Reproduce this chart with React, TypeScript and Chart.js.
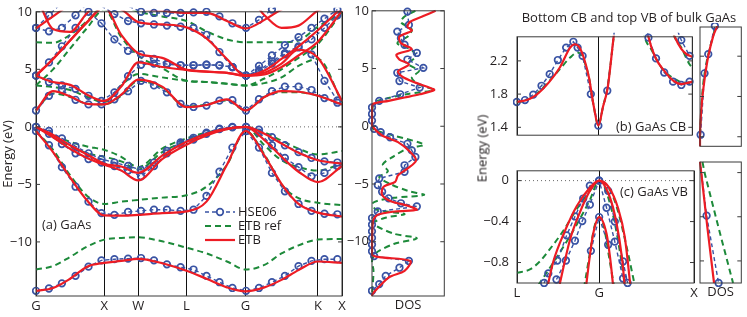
import React, { useEffect, useRef } from "react";
import { Chart, registerables } from "chart.js";

Chart.register(...registerables);

const FONT_FAMILY = "'Open Sans', 'DejaVu Sans', sans-serif";
const TEXT = "#231f20";
const RED = "#ed1c24";
const GREEN = "#1d8a3a";
const BLUE = "#3953a4";
const FRAME = "#3a3a3a";

// ---------- (a) band structure along G-X-W-L-G-K-X ----------
const symPos = [0, 1, 1.5, 2.2071, 3.0731, 4.1338, 4.4874];
const symLabels = ["G", "X", "W", "L", "G", "K", "X"];
const energyTicks = [-10, -5, 0, 5, 10];
const eMin = -14.7;
const eMax = 10;

// k grid for ETB and ETB ref curves
const kPath = [0, 0.25, 0.5, 0.75, 1.0, 1.25, 1.5, 1.85, 2.2071, 2.5, 2.8, 3.0731, 3.35, 3.6, 3.85, 4.1338, 4.4874];
// ETB (red)
const etbV1 = [-14.25, -14.0, -13.2, -12.15, -11.82, -11.65, -11.47, -11.85, -12.5, -13.2, -13.95, -14.3, -13.95, -13.3, -12.45, -11.7, -11.82];
const etbV2 = [-0.36, -2.2, -4.4, -6.4, -7.7, -7.72, -7.65, -7.5, -7.35, -6.5, -3.3, -0.36, -2.5, -4.95, -6.7, -7.45, -7.8];
const etbV3 = [0, -0.9, -1.9, -2.7, -3.3, -3.8, -4.65, -2.8, -1.55, -0.75, -0.2, 0, -1.15, -2.6, -3.9, -4.8, -3.4];
const etbV4 = [0, -0.7, -1.6, -2.4, -3.2, -3.45, -4.0, -2.5, -1.3, -0.6, -0.15, 0, -0.6, -1.45, -2.25, -2.9, -3.2];
const etbC1 = [1.42, 3.1, 2.65, 2.0, 1.95, 2.8, 4.1, 3.5, 1.71, 1.9, 2.39, 1.42, 2.6, 3.1, 3.05, 2.7, 1.95];
const etbC2 = [4.45, 3.9, 3.65, 2.8, 2.25, 3.5, 5.6, 5.2, 4.95, 4.8, 4.7, 4.45, 4.7, 5.5, 6.7, 6.0, 2.25];
const etbC3 = [4.45, 5.9, 7.5, 9.1, 10.4, 8.0, 6.4, 6.0, 4.95, 4.8, 4.7, 4.45, 4.55, 5.2, 6.2, 7.4, 10.1];
const etbC4 = [4.45, 5.9, 7.5, 9.1, 10.4, 10.2, 9.1, 8.9, 8.65, 7.7, 5.9, 4.45, 4.9, 5.9, 7.0, 8.4, 10.4];
const etbC5 = [8.55, 9.6, 10.6, 11, 11, 10.8, 10.3, 10.1, 9.9, 9.9, 9.2, 8.55, 9.3, 10.2, 10.8, 11, 11];
const etbC6 = [11.5, 8.5, 8.25, 9.9, 11, 11, 11, 11, 11, 11, 11, 11.5, 9.7, 8.6, 8.8, 10.1, 11];
// ETB ref (green)
const refV1 = [-12.4, -12.1, -11.3, -10.4, -9.8, -9.65, -9.6, -9.95, -10.5, -11.0, -11.7, -12.4, -12.0, -11.0, -10.3, -9.8, -9.75];
const refV2 = [-0.36, -2.0, -4.2, -6.0, -6.7, -6.5, -6.35, -6.15, -5.95, -5.2, -3.3, -0.36, -2.4, -5.0, -6.2, -6.6, -6.8];
const refV3 = [0, -0.9, -1.7, -2.3, -2.6, -3.0, -3.7, -2.2, -1.2, -0.6, -0.2, 0, -1.6, -2.9, -3.5, -3.8, -3.2];
const refV4 = [0, -0.7, -1.3, -1.7, -2.0, -2.6, -3.5, -1.9, -1.0, -0.5, -0.15, 0, -0.5, -1.2, -1.9, -2.4, -2.1];
const refC1 = [1.43, 2.9, 2.6, 2.0, 1.95, 2.7, 4.0, 3.4, 1.75, 1.95, 2.3, 1.43, 2.6, 3.0, 3.0, 2.7, 1.95];
const refC2 = [3.6, 3.45, 3.2, 2.6, 2.15, 3.6, 4.6, 4.3, 4.0, 3.9, 3.75, 3.6, 3.8, 4.3, 5.3, 5.9, 2.15];
const refC3 = [3.6, 5.0, 6.8, 8.6, 10.2, 7.8, 6.2, 5.1, 4.0, 3.9, 3.75, 3.6, 4.2, 5.0, 6.0, 7.2, 10.0];
const refC4 = [7.35, 7.3, 8.0, 9.2, 10.5, 10.5, 10.0, 9.6, 9.2, 8.3, 7.6, 7.35, 7.35, 7.35, 7.5, 8.7, 9.9];
// HSE06 (blue circles), sampled on its own k grid
const kHse = [0, 0.19, 0.38, 0.58, 0.77, 0.96, 1.15, 1.35, 1.54, 1.73, 1.92, 2.12, 2.31, 2.5, 2.69, 2.88, 3.08, 3.27, 3.46, 3.65, 3.85, 4.04, 4.23, 4.42];
const hseV1 = [-14.25, -14.05, -13.6, -12.95, -12.15, -11.6, -11.5, -11.45, -11.4, -11.6, -11.95, -12.2, -12.4, -12.95, -13.5, -14.0, -14.25, -14.0, -13.5, -12.95, -12.1, -11.65, -11.5, -11.5];
const hseV2 = [-0.36, -1.6, -3.5, -5.2, -6.5, -7.5, -7.65, -7.4, -7.3, -7.2, -7.2, -7.3, -7.2, -6.0, -3.9, -1.8, -0.36, -1.8, -4.0, -5.6, -6.7, -7.3, -7.55, -7.6];
const hseV3 = [0, -0.6, -1.5, -2.3, -2.8, -3.1, -3.4, -3.8, -4.3, -3.4, -2.3, -1.5, -1.1, -0.6, -0.2, -0.05, 0, -0.5, -1.6, -2.7, -3.5, -4.3, -4.0, -3.4];
const hseV4 = [0, -0.35, -1.0, -1.7, -2.3, -2.8, -3.1, -3.4, -3.75, -3.1, -2.1, -1.35, -0.95, -0.5, -0.15, 0, 0, -0.25, -0.9, -1.6, -2.2, -2.7, -3.0, -3.1];
const hseC1 = [1.42, 2.7, 3.2, 2.35, 1.95, 1.95, 2.4, 3.1, 4.0, 3.6, 3.0, 2.0, 1.73, 1.85, 2.28, 2.32, 1.42, 2.4, 3.1, 3.5, 3.5, 3.2, 2.5, 2.1];
const hseC2 = [4.45, 3.9, 3.6, 3.3, 2.7, 2.26, 3.0, 4.4, 5.4, 5.5, 5.45, 5.35, 5.35, 5.4, 5.35, 5.2, 4.45, 4.8, 5.5, 6.3, 6.9, 6.3, 4.0, 2.3];
const hseC3 = [4.45, 5.6, 7.0, 8.6, 10.0, 9.0, 7.6, 6.6, 6.3, 5.9, 5.5, 5.35, 5.35, 5.4, 5.35, 5.2, 4.45, 4.9, 5.7, 6.4, 7.0, 7.6, 8.6, 9.7];
const hseC4 = [8.6, 8.3, 8.6, 9.7, 10.8, 10.5, 9.8, 9.2, 9.0, 8.9, 8.8, 8.7, 8.6, 8.0, 6.5, 5.2, 4.45, 5.3, 6.2, 7.1, 7.8, 8.6, 9.4, 10.2];
const hseC5 = [8.6, 9.7, 10.8, 11, 11, 11, 11, 10.5, 10.0, 9.9, 9.9, 9.9, 9.95, 10.0, 9.6, 9.0, 8.6, 9.3, 10.2, 11, 11, 11, 11, 11];

// ---------- DOS of (a) ----------
const etbDosE = [10, 9.54, 9.05, 8.63, 8.28, 7.77, 7.2, 6.68, 6.21, 5.78, 5.35, 4.77, 4.29, 3.78, 3.35, 3.14, 2.77, 2.49, 2.2, 1.92, 1.5, 0.5, 0.05, -0.8, -1.37, -2.23, -2.95, -3.67, -4.24, -4.81, -5.24, -5.95, -6.52, -6.87, -7.24, -7.38, -7.67, -8.24, -11.1, -11.33, -11.67, -12.53, -13.1, -14.5, -14.7];
const etbDosV = [0.88, 0.71, 0.53, 0.49, 0.55, 0.38, 0.4, 0.55, 0.34, 0.38, 0.51, 0.36, 0.42, 0.6, 0.79, 0.86, 0.66, 0.45, 0.23, 0.01, 0, 0, 0, 0.14, 0.36, 0.53, 0.61, 0.49, 0.36, 0.32, 0.16, 0.14, 0.27, 0.49, 0.62, 0.32, 0.08, 0.01, 0, 0.1, 0.53, 0.45, 0.23, 0.01, 0];
const refDosE = [10, 9.5, 9.0, 8.4, 7.8, 7.2, 6.6, 6.0, 5.4, 4.8, 4.2, 3.6, 3.15, 2.8, 2.4, 2.0, 0.2, -0.3, -0.8, -1.6, -1.9, -2.6, -3.3, -3.9, -4.4, -5.0, -5.6, -5.95, -6.2, -6.6, -7.2, -7.6, -7.9, -8.4, -9.3, -9.7, -10.2, -11.0, -11.7, -12.5, -14.7];
const refDosV = [0.6, 0.45, 0.4, 0.55, 0.5, 0.35, 0.55, 0.6, 0.5, 0.65, 0.55, 0.65, 0.85, 0.5, 0.2, 0.02, 0, 0.03, 0.3, 0.72, 0.5, 0.3, 0.15, 0.22, 0.1, 0.25, 0.5, 0.72, 0.3, 0.02, 0.05, 0.45, 0.2, 0.02, 0.3, 0.62, 0.3, 0.05, 0, 0.02, 0];
const hseDosE = [9.93, 8.78, 8.2, 7.63, 7.06, 6.35, 5.78, 5.06, 4.63, 3.92, 3.35, 2.77, 2.2, 1.63, 1.06, 0.49, -0.23, -0.52, -0.95, -1.52, -2.09, -2.66, -3.38, -3.95, -4.52, -5.09, -5.67, -6.24, -6.67, -6.95, -7.38, -7.95, -8.52, -9.1, -9.67, -10.25, -10.82, -11.25, -11.67, -12.25, -12.96, -13.67, -14.25];
const hseDosV = [0.49, 0.51, 0.35, 0.4, 0.45, 0.62, 0.49, 0.71, 0.35, 0.38, 0.66, 0.39, 0.1, 0, 0, 0, 0.03, 0.12, 0.25, 0.49, 0.55, 0.6, 0.45, 0.45, 0.1, 0.08, 0.14, 0.23, 0.4, 0.62, 0.08, 0, 0, 0, 0, 0, 0, 0.03, 0.51, 0.38, 0.19, 0.1, 0];

// ---------- (b) bottom CB, (c) top VB : path L-G-X ----------
const zoomPos = [-0.866, 0, 1.0];
const zoomLabels = ["L", "G", "X"];
const cbTicks = [1.4, 1.8, 2.2];
const vbTicks = [-0.8, -0.4, 0];
const cbEtb1 = [[-0.866, 1.705], [-0.76, 1.73], [-0.66, 1.79], [-0.52, 1.95], [-0.41, 2.12], [-0.3, 2.36], [-0.25, 2.4], [-0.2, 2.36], [-0.15, 2.22], [-0.1, 2.0], [-0.05, 1.66], [0, 1.42], [0.05, 1.65], [0.1, 1.88], [0.165, 2.51], [0.2, 2.8], [0.33, 3.2], [0.5, 2.7], [0.533, 2.49], [0.603, 2.25], [0.708, 2.07], [0.8, 1.96], [0.883, 1.92], [0.95, 1.935], [1.0, 1.95]];
const cbEtb2 = [[0.7, 2.85], [0.813, 2.49], [0.883, 2.345], [0.94, 2.28], [1.0, 2.25]];
const cbRef1 = [[-0.866, 1.7], [-0.76, 1.73], [-0.66, 1.8], [-0.52, 1.96], [-0.41, 2.1], [-0.3, 2.24], [-0.22, 2.3], [-0.16, 2.22], [-0.1, 2.0], [-0.05, 1.66], [0, 1.42], [0.05, 1.65], [0.1, 1.9], [0.165, 2.5], [0.2, 2.8], [0.33, 3.1], [0.45, 2.75], [0.49, 2.5], [0.567, 2.33], [0.672, 2.12], [0.85, 1.96], [1.0, 1.93]];
const cbRef2 = [[0.75, 2.75], [0.8, 2.52], [0.883, 2.36], [0.97, 2.16], [1.0, 2.12]];
const cbHse1 = [[-0.868, 1.705], [-0.781, 1.728], [-0.693, 1.794], [-0.605, 1.9], [-0.518, 2.04], [-0.431, 2.21], [-0.343, 2.36], [-0.266, 2.43], [-0.221, 2.36], [-0.168, 2.26], [-0.08, 1.8], [0, 1.42], [0.095, 1.84], [0.19, 2.75], [0.28, 3.1], [0.36, 3.2], [0.45, 2.95], [0.533, 2.48], [0.614, 2.23], [0.701, 2.06], [0.795, 1.95], [0.883, 1.91], [0.971, 1.95]];
const cbHse2 = [[0.701, 2.95], [0.795, 2.7], [0.883, 2.45], [0.971, 2.26]];
const cbDosEtb = [[1.305, 0], [1.42, 0], [1.6, 0.02], [1.8, 0.06], [2.0, 0.12], [2.2, 0.2], [2.4, 0.32], [2.5, 0.42]];
const cbDosRef = [[1.42, 0], [1.8, 0.05], [2.0, 0.1], [2.2, 0.19], [2.5, 0.38]];
const cbDosHse = [[1.42, 0.015], [2.03, 0.11], [2.22, 0.2], [2.5, 0.36]];

const vbEtbA = [[-0.55, -1.06], [-0.483, -0.79], [-0.36, -0.49], [-0.237, -0.25], [-0.098, -0.07], [0, 0], [0.1, -0.06], [0.2, -0.27], [0.27, -0.55], [0.33, -1.03]];
const vbEtbB = [[-0.42, -1.03], [-0.308, -0.58], [-0.203, -0.31], [-0.098, -0.1], [0, 0], [0.112, -0.16], [0.18, -0.4], [0.24, -0.75], [0.27, -1.03]];
const vbEtbSO = [[-0.14, -1.05], [-0.1, -0.75], [-0.063, -0.52], [0, -0.356], [0.078, -0.52], [0.115, -0.75], [0.15, -1.05]];
const vbRefA = [[-0.866, -0.9], [-0.73, -0.867], [-0.626, -0.79], [-0.52, -0.67], [-0.378, -0.49], [-0.237, -0.28], [-0.098, -0.1], [0, 0], [0.1, -0.07], [0.183, -0.25], [0.288, -0.64], [0.375, -1.02]];
const vbRefB = [[-0.64, -1.02], [-0.413, -0.7], [-0.237, -0.43], [-0.098, -0.19], [0, 0], [0.147, -0.34], [0.235, -0.79], [0.27, -1.02]];
const vbRefSO = [[-0.16, -1.05], [-0.1, -0.72], [-0.05, -0.45], [0, -0.36], [0.05, -0.45], [0.1, -0.72], [0.16, -1.05]];
const vbHseA = [[-0.58, -1.0], [-0.536, -0.906], [-0.441, -0.78], [-0.343, -0.535], [-0.255, -0.35], [-0.168, -0.175], [-0.098, -0.05], [0, 0], [0.095, -0.1], [0.165, -0.4], [0.252, -0.79], [0.3, -1.0]];
const vbHseB = [[-0.45, -0.966], [-0.35, -0.78], [-0.255, -0.587], [-0.178, -0.395], [-0.098, -0.235], [0, 0], [0.078, -0.265], [0.165, -0.596], [0.252, -0.956]];
const vbHseSO = [[-0.087, -0.686], [0, -0.356], [0.095, -0.626]];
const vbDosEtb = [[0.096, 0.0], [0, 0.03], [-0.5, 0.18], [-1.0, 0.34]];
const vbDosRef = [[0.096, 0.06], [0, 0.11], [-0.5, 0.45], [-1.0, 0.8]];
const vbDosHse = [[0.05, 0.02], [-0.39, 0.16], [-1.0, 0.45]];
const vbDosHseMarks = [0, 3.3, 3.3];

const legendLabels = ["HSE06", "ETB ref", "ETB"];

// ---------- helpers ----------
type Pt = { x: number; y: number };
const zip = (xs: number[], ys: number[]): Pt[] => xs.map((x, i) => ({ x, y: ys[i] }));
const fromPairs = (p: number[][]): Pt[] => p.map(([x, y]) => ({ x, y }));
const dosPts = (es: number[], vs: number[]): Pt[] => es.map((e, i) => ({ x: vs[i], y: e }));
const dosPairs = (p: number[][]): Pt[] => p.map(([e, v]) => ({ x: v, y: e }));
const fmt = (v: number) => (v < 0 ? "\u2212" + String(Math.abs(v)) : String(v));
const font = { family: FONT_FAMILY, size: 13 };

const etbLine = (data: Pt[], extra: any = {}) => ({
  data, borderColor: RED, borderWidth: 2.2, pointRadius: 0, fill: false,
  cubicInterpolationMode: "monotone", clip: 1, order: 1, ...extra,
});
const refLine = (data: Pt[], extra: any = {}) => ({
  data, borderColor: GREEN, borderWidth: 2, borderDash: [6, 4], pointRadius: 0, fill: false,
  cubicInterpolationMode: "monotone", clip: 1, order: 3, ...extra,
});
const hseLine = (data: Pt[], extra: any = {}) => ({
  data, borderColor: BLUE, borderWidth: 1.4, borderDash: [4, 3], pointRadius: 3.3,
  pointBorderWidth: 1.7, pointBorderColor: BLUE, pointBackgroundColor: "rgba(255,255,255,0)",
  tension: 0, clip: 4, order: 2, fill: false, ...extra,
});
const zeroLine = (x0: number, x1: number) => ({
  data: [{ x: x0, y: 0 }, { x: x1, y: 0 }], borderColor: "#666", borderWidth: 1,
  borderDash: [1, 3], pointRadius: 0, order: 6, clip: 0, fill: false,
});
const dosCurve = { cubicInterpolationMode: "default", tension: 0.3 };

function energyAxis(min: number, max: number, ticks: number[], width: number, labels: boolean, pad: number, title?: string) {
  return {
    type: "linear", min, max,
    afterBuildTicks: (s: any) => { s.ticks = ticks.map((v) => ({ value: v })); },
    afterFit: (s: any) => { s.width = width; },
    ticks: { display: labels, padding: pad, autoSkip: false, color: TEXT, font, callback: (v: any) => fmt(Number(v)) },
    grid: { display: false, drawTicks: false },
    border: { display: false },
    title: { display: !!title, text: title || "", color: TEXT, font, padding: { top: 0, bottom: 0 } },
  };
}

function kAxis(min: number, max: number, pos: number[] | null, labels: string[], height: number, pad: number, showLabels: boolean, title?: string, titlePad = 0) {
  const axis: any = {
    type: "linear", min, max,
    afterFit: (s: any) => { s.height = height; },
    ticks: {
      display: showLabels, padding: pad, autoSkip: false, maxRotation: 0, minRotation: 0,
      color: TEXT, font, callback: (_v: any, i: number) => labels[i] ?? "",
    },
    grid: { display: !!pos, drawTicks: false, drawOnChartArea: true, color: "#111", lineWidth: 1 },
    border: { display: false },
    title: { display: !!title, text: title || "", color: TEXT, font, padding: { top: 0, bottom: titlePad } },
  };
  if (pos) axis.afterBuildTicks = (s: any) => { s.ticks = pos.map((v) => ({ value: v })); };
  return axis;
}

const framePlugin = {
  id: "frame",
  afterDatasetsDraw(chart: any, _args: any, opts: any) {
    const { ctx, chartArea: a } = chart;
    ctx.save();
    ctx.strokeStyle = FRAME;
    ctx.lineWidth = 1;
    ctx.setLineDash([]);
    ctx.strokeRect(a.left, a.top, a.right - a.left, a.bottom - a.top);
    const ys = chart.scales.y;
    (opts.yTicks || []).forEach((v: number) => {
      const p = ys.getPixelForValue(v);
      ctx.beginPath();
      ctx.moveTo(a.left, p); ctx.lineTo(a.left + 4, p);
      ctx.moveTo(a.right, p); ctx.lineTo(a.right - 4, p);
      ctx.stroke();
    });
    ctx.restore();
  },
};

const legendPlugin = {
  id: "bandLegend",
  afterDatasetsDraw(chart: any, _args: any, opts: any) {
    if (!opts || !opts.items) return;
    const { ctx } = chart;
    ctx.save();
    opts.items.forEach((it: any, i: number) => {
      const y = opts.y + i * opts.gap;
      ctx.strokeStyle = it.color;
      ctx.lineWidth = it.width;
      ctx.setLineDash(it.dash);
      ctx.beginPath(); ctx.moveTo(opts.x0, y); ctx.lineTo(opts.x1, y); ctx.stroke();
      ctx.setLineDash([]);
      if (it.marker) {
        ctx.fillStyle = "#fff";
        ctx.beginPath(); ctx.arc((opts.x0 + opts.x1) / 2, y, 3.3, 0, Math.PI * 2);
        ctx.fill(); ctx.lineWidth = 1.7; ctx.stroke();
      }
      ctx.fillStyle = TEXT;
      ctx.font = `13px ${FONT_FAMILY}`;
      ctx.textBaseline = "middle";
      ctx.textAlign = "left";
      ctx.fillText(it.label, opts.x1 + 3, y);
    });
    ctx.restore();
  },
};

function baseOptions(padding: any, scales: any, pluginOpts: any) {
  return {
    responsive: false, animation: false, devicePixelRatio: 1,
    layout: { padding },
    events: [],
    plugins: { legend: { display: false }, tooltip: { enabled: false }, ...pluginOpts },
    scales,
  };
}

// ---------- chart configs ----------
function mainConfig() {
  const etb = [etbV1, etbV2, etbV3, etbV4, etbC1, etbC2, etbC3, etbC4, etbC5, etbC6].map((b) => etbLine(zip(kPath, b)));
  const ref = [refV1, refV2, refV3, refV4, refC1, refC2, refC3, refC4].map((b) => refLine(zip(kPath, b)));
  const hse = [hseV1, hseV2, hseV3, hseV4, hseC1, hseC2, hseC3, hseC4, hseC5].map((b) => hseLine(zip(kHse, b)));
  return {
    type: "line",
    data: { datasets: [zeroLine(0, 4.4874), ...etb, ...hse, ...ref] },
    options: baseOptions(
      { left: 0, right: 8, top: 8, bottom: 0 },
      {
        x: kAxis(0, 4.4874, symPos, symLabels, 21, 2, true),
        y: energyAxis(eMin, eMax, energyTicks, 36, true, 4, "Energy (eV)"),
      },
      {
        frame: { yTicks: energyTicks },
        bandLegend: {
          x0: 205, x1: 235, y: 212, gap: 14,
          items: [
            { label: legendLabels[0], color: BLUE, width: 1.5, dash: [4, 3], marker: true },
            { label: legendLabels[1], color: GREEN, width: 2, dash: [6, 4] },
            { label: legendLabels[2], color: RED, width: 2.2, dash: [] },
          ],
        },
      }
    ),
    plugins: [framePlugin, legendPlugin],
  };
}

function dosConfig() {
  return {
    type: "line",
    data: {
      datasets: [
        etbLine(dosPts(etbDosE, etbDosV), dosCurve),
        hseLine(dosPts(hseDosE, hseDosV)),
        refLine(dosPts(refDosE, refDosV), dosCurve),
      ],
    },
    options: baseOptions(
      { left: 0, right: 1, top: 8, bottom: 0 },
      {
        x: kAxis(0, 1, null, [], 21, 0, false, "DOS", 4),
        y: energyAxis(eMin, eMax, energyTicks, 29, true, 3),
      },
      { frame: { yTicks: energyTicks } }
    ),
    plugins: [framePlugin],
  };
}

function cbConfig() {
  return {
    type: "line",
    data: {
      datasets: [
        etbLine(fromPairs(cbEtb1)), etbLine(fromPairs(cbEtb2)),
        hseLine(fromPairs(cbHse1)), hseLine(fromPairs(cbHse2)),
        refLine(fromPairs(cbRef1)), refLine(fromPairs(cbRef2)),
      ],
    },
    options: baseOptions(
      { left: 0, right: 4, top: 7, bottom: 3 },
      {
        x: kAxis(-0.866, 1.0, zoomPos, zoomLabels, 0, 0, false),
        y: energyAxis(1.305, 2.49, cbTicks, 47, true, 9),
      },
      { frame: { yTicks: cbTicks } }
    ),
    plugins: [framePlugin],
  };
}

function cbDosConfig() {
  return {
    type: "line",
    data: {
      datasets: [
        etbLine(dosPairs(cbDosEtb), dosCurve),
        hseLine(dosPairs(cbDosHse)),
        refLine(dosPairs(cbDosRef), dosCurve),
      ],
    },
    options: baseOptions(
      { left: 0, right: 1, top: 7, bottom: 3 },
      {
        x: kAxis(0, 1, null, [], 0, 0, false),
        y: energyAxis(1.305, 2.49, cbTicks, 10, false, 0),
      },
      { frame: { yTicks: cbTicks } }
    ),
    plugins: [framePlugin],
  };
}

function vbConfig() {
  return {
    type: "line",
    data: {
      datasets: [
        zeroLine(-0.866, 1.0),
        etbLine(fromPairs(vbEtbA)), etbLine(fromPairs(vbEtbB)), etbLine(fromPairs(vbEtbSO)),
        hseLine(fromPairs(vbHseA)), hseLine(fromPairs(vbHseB)), hseLine(fromPairs(vbHseSO)),
        refLine(fromPairs(vbRefA)), refLine(fromPairs(vbRefB)), refLine(fromPairs(vbRefSO)),
      ],
    },
    options: baseOptions(
      { left: 0, right: 8, top: 7, bottom: 0 },
      {
        x: kAxis(-0.866, 1.0, zoomPos, zoomLabels, 17, 2, true),
        y: energyAxis(-1.0, 0.096, vbTicks, 47, true, 8),
      },
      { frame: { yTicks: vbTicks } }
    ),
    plugins: [framePlugin],
  };
}

function vbDosConfig() {
  return {
    type: "line",
    data: {
      datasets: [
        etbLine(dosPairs(vbDosEtb), { cubicInterpolationMode: "default", tension: 0 }),
        hseLine(dosPairs(vbDosHse), { pointRadius: vbDosHseMarks }),
        refLine(dosPairs(vbDosRef), { cubicInterpolationMode: "default", tension: 0 }),
      ],
    },
    options: baseOptions(
      { left: 0, right: 1, top: 7, bottom: 0 },
      {
        x: kAxis(0, 1, null, [], 17, 0, false, "DOS", 0),
        y: energyAxis(-1.0, 0.096, vbTicks, 10, false, 0),
      },
      { frame: { yTicks: vbTicks } }
    ),
    plugins: [framePlugin],
  };
}

// ---------- components ----------
function ChartCanvas(props: { left: number; top: number; width: number; height: number; make: () => any }) {
  const ref = useRef<HTMLCanvasElement>(null);
  useEffect(() => {
    const chart = new Chart(ref.current as HTMLCanvasElement, props.make() as any);
    return () => chart.destroy();
  }, []);
  return (
    <canvas
      ref={ref}
      width={props.width}
      height={props.height}
      style={{ position: "absolute", left: props.left, top: props.top, width: props.width, height: props.height }}
    />
  );
}

function Label(props: { x: number; y: number; text: string; w?: number; align?: "left" | "center"; rotate?: boolean }) {
  const w = props.w ?? 200;
  const style: any = {
    position: "absolute", top: props.y - 7.5, height: 15, lineHeight: "15px",
    fontFamily: FONT_FAMILY, fontSize: 13, fontWeight: 400, color: TEXT, whiteSpace: "nowrap",
    width: w, textAlign: props.align ?? "left",
    left: props.align === "center" ? props.x - w / 2 : props.x,
  };
  if (props.rotate) style.transform = "rotate(-90deg)";
  return <div style={style}>{props.text}</div>;
}

export default function App() {
  return (
    <div style={{ position: "absolute", left: 0, top: 0, width: 747, height: 317, background: "#fff", overflow: "hidden" }}>
      <ChartCanvas left={0} top={0} width={350} height={317} make={mainConfig} />
      <ChartCanvas left={343} top={0} width={107} height={317} make={dosConfig} />
      <ChartCanvas left={470} top={20} width={228} height={132} make={cbConfig} />
      <ChartCanvas left={690} top={20} width={57} height={132} make={cbDosConfig} />
      <ChartCanvas left={470} top={155} width={232} height={145} make={vbConfig} />
      <ChartCanvas left={690} top={155} width={57} height={145} make={vbDosConfig} />
      <Label x={42} y={224} text="(a) GaAs" />
      <Label x={616} y={126} text="(b) GaAs CB" />
      <Label x={620} y={191} text="(c) GaAs VB" />
      <Label x={629} y={17} w={260} align="center" text="Bottom CB and top VB of bulk GaAs" />
      <Label x={482} y={148} w={100} align="center" rotate text="Energy (eV)" />
    </div>
  );
}
